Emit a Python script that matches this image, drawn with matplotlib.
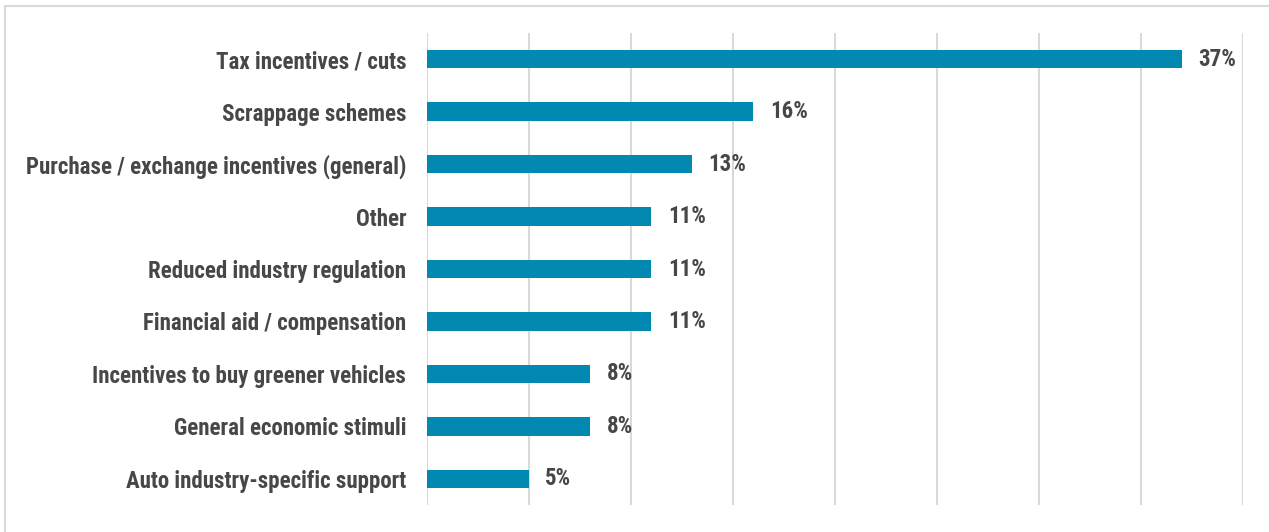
import matplotlib.pyplot as plt
from matplotlib.lines import Line2D

# === Data ===
categories = [
    "Tax incentives / cuts",
    "Scrappage schemes",
    "Purchase / exchange incentives (general)",
    "Other",
    "Reduced industry regulation",
    "Financial aid / compensation",
    "Incentives to buy greener vehicles",
    "General economic stimuli",
    "Auto industry-specific support",
]
shares = [37, 16, 13, 11, 11, 11, 8, 8, 5]  # percent of respondents

bar_color = "#0189b1"
text_color = "#474747"
grid_color = "#d9d9d9"
font = ["Liberation Sans Narrow", "Roboto Condensed", "Liberation Sans", "DejaVu Sans"]
fsize = 16.5

fig = plt.figure(figsize=(12.69, 5.32), dpi=100)
ax = fig.add_axes([427 / 1269, 1 - 505 / 532, (1243 - 427) / 1269, (505 - 33) / 532])

y = list(range(len(categories)))
ax.barh(y, shares, height=0.35, color=bar_color, zorder=3)

for yi, v in zip(y, shares):
    ax.text(v + 0.8, yi, f"{v}%", va="center", ha="left", fontsize=fsize,
            fontweight="bold", color=text_color, family=font)

ax.set_xlim(0, 40)
ax.set_xticks(range(0, 41, 5))
ax.set_ylim(len(categories) - 0.5, -0.5)
ax.set_yticks(y)
ax.set_yticklabels(categories, fontsize=fsize, fontweight="bold", color=text_color, family=font)
ax.tick_params(axis="y", length=0, pad=15)
ax.tick_params(axis="x", length=0, labelbottom=False)
ax.grid(axis="x", color=grid_color, linewidth=1.5, zorder=0)
for s in ax.spines.values():
    s.set_visible(False)

# light frame around the whole chart area
fig.add_artist(Line2D([5 / 1269, 5 / 1269], [0, 1 - 6 / 532], transform=fig.transFigure,
                      color=grid_color, linewidth=1.5))
fig.add_artist(Line2D([5 / 1269, 1], [1 - 6 / 532, 1 - 6 / 532], transform=fig.transFigure,
                      color=grid_color, linewidth=1.5))

fig.savefig("out.png", dpi=100, facecolor="white")
